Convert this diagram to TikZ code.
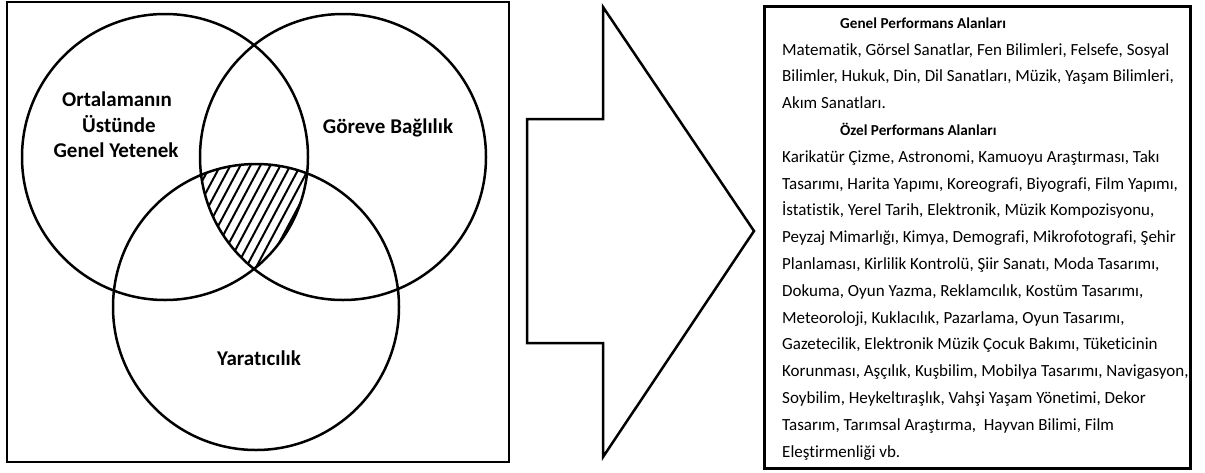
\documentclass[tikz,border=0pt]{standalone}
\usepackage{fontspec}
\setmainfont{Carlito}[Ligatures={NoCommon,NoRequired,NoContextual}]
\begin{document}
\begin{tikzpicture}[x=1pt,y=-1pt,
  venn/.style={draw=black,line width=2.5pt},
  hatchline/.style={draw=black,line width=2pt},
  frame/.style={draw=black,line width=2pt},
  bigarrow/.style={draw=black,line width=2.5pt,line join=miter},
  listbox/.style={draw=black,line width=3pt},
  vlabel/.style={inner sep=0pt,anchor=base,font=\fontsize{21}{25}\selectfont\bfseries},
  ltitle/.style={inner sep=0pt,anchor=base west,font=\fontsize{15.2}{18}\selectfont\bfseries},
  ltext/.style={inner sep=0pt,anchor=base west,font=\fontsize{17}{20}\selectfont}]
\useasboundingbox (0,0) rectangle (1205,472);
\fill[white] (0,0) rectangle (1205,472);
% left frame
\coordinate (f1) at (7,2);
\coordinate (f2) at (509,462);
\draw[frame] (f1) rectangle (f2);
% circle centres
\coordinate (L) at (165,157);
\coordinate (R) at (343,157);
\coordinate (B) at (256,307);
% hatching of the common region
\begin{scope}
  \clip (L) circle (143);
  \clip (R) circle (143);
  \clip (B) circle (143);
  \foreach \x in {124,134,...,334} {
    \draw[hatchline] (\x,290) -- ++(80,-150);
  }
\end{scope}
\draw[venn] (L) circle (143);
\draw[venn] (R) circle (143);
\draw[venn] (B) circle (143);
% circle labels
\node[vlabel] (l1) at (117,106) {Ortalamanın};
\node[vlabel] (l2) at (119,132) {Üstünde};
\node[vlabel] (l3) at (116,157) {Genel Yetenek};
\node[vlabel] (r1) at (388,133) {Göreve Bağlılık};
\node[vlabel] (b1) at (259,365) {Yaratıcılık};
% big arrow
\coordinate (a1) at (527,119);
\coordinate (a2) at (603,119);
\coordinate (a3) at (603,7);
\coordinate (a4) at (754,231);
\coordinate (a5) at (603,457);
\coordinate (a6) at (603,343);
\coordinate (a7) at (527,343);
\draw[bigarrow] (a1) -- (a2) -- (a3) -- (a4) -- (a5) -- (a6) -- (a7) -- cycle;
% right list box
\coordinate (b1c) at (764,6);
\coordinate (b2c) at (1190,468);
\draw[listbox] (b1c) rectangle (b2c);
% list text
\node[ltitle] (t1) at (840,28.2) {Genel Performans Alanları};
\node[ltext] (g1) at (782,55.0) {Matematik, Görsel Sanatlar, Fen Bilimleri, Felsefe, Sosyal};
\node[ltext] (g2) at (782,81.8) {Bilimler, Hukuk, Din, Dil Sanatları, Müzik, Yaşam Bilimleri,};
\node[ltext] (g3) at (782,108.6) {Akım Sanatları.};
\node[ltitle] (t2) at (840,135.4) {Özel Performans Alanları};
\node[ltext] (o1) at (782,162.2) {Karikatür Çizme, Astronomi, Kamuoyu Araştırması, Takı};
\node[ltext] (o2) at (782,189.0) {Tasarımı, Harita Yapımı, Koreografi, Biyografi, Film Yapımı,};
\node[ltext] (o3) at (782,215.8) {İstatistik, Yerel Tarih, Elektronik, Müzik Kompozisyonu,};
\node[ltext] (o4) at (782,242.6) {Peyzaj Mimarlığı, Kimya, Demografi, Mikrofotografi, Şehir};
\node[ltext] (o5) at (782,269.4) {Planlaması, Kirlilik Kontrolü, Şiir Sanatı, Moda Tasarımı,};
\node[ltext] (o6) at (782,296.2) {Dokuma, Oyun Yazma, Reklamcılık, Kostüm Tasarımı,};
\node[ltext] (o7) at (782,323.0) {Meteoroloji, Kuklacılık, Pazarlama, Oyun Tasarımı,};
\node[ltext] (o8) at (782,349.8) {Gazetecilik, Elektronik Müzik Çocuk Bakımı, Tüketicinin};
\node[ltext] (o9) at (782,376.6) {Korunması, Aşçılık, Kuşbilim, Mobilya Tasarımı, Navigasyon,};
\node[ltext] (o10) at (782,403.4) {Soybilim, Heykeltıraşlık, Vahşi Yaşam Yönetimi, Dekor};
\node[ltext] (o11) at (782,430.2) {Tasarım, Tarımsal Araştırma,\ \ Hayvan Bilimi, Film};
\node[ltext] (o12) at (782,457.0) {Eleştirmenliği vb.};
\end{tikzpicture}
\end{document}
